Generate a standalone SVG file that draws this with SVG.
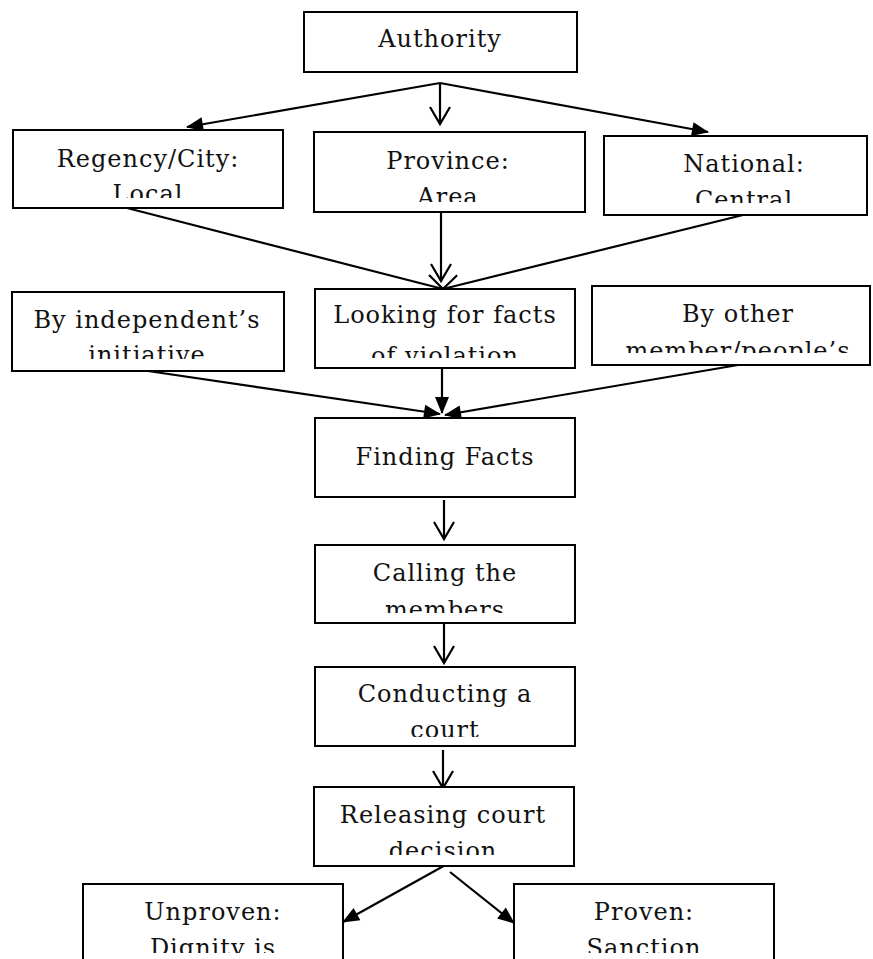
<svg xmlns="http://www.w3.org/2000/svg" width="873" height="959" viewBox="0 0 873 959">
<style>
.box{fill:#fff;stroke:#000;stroke-width:2}
.t{font-family:"DejaVu Serif","Liberation Serif",serif;font-size:24px;letter-spacing:1px;text-anchor:middle;fill:#111}
.c{stroke:#000;stroke-width:2.2;fill:none}
.f{marker-end:url(#fill)}
.o{marker-end:url(#open)}
</style>
<defs>
<marker id="fill" markerUnits="userSpaceOnUse" markerWidth="18" markerHeight="14" refX="16" refY="7" orient="auto" overflow="visible">
<path d="M0,0 L17,7 L0,14 z" fill="#000"/>
</marker>
<marker id="open" markerUnits="userSpaceOnUse" markerWidth="20" markerHeight="22" refX="17" refY="10" orient="auto" overflow="visible">
<path d="M0,0 L17,10 L0,20" fill="none" stroke="#000" stroke-width="2.2"/>
</marker>
<clipPath id="cReg"><rect x="0" y="120" width="300" height="78"/></clipPath>
<clipPath id="cPro"><rect x="300" y="120" width="300" height="82"/></clipPath>
<clipPath id="cNat"><rect x="590" y="120" width="300" height="83"/></clipPath>
<clipPath id="cInd"><rect x="0" y="280" width="300" height="79"/></clipPath>
<clipPath id="cLook"><rect x="300" y="280" width="290" height="78"/></clipPath>
<clipPath id="cOth"><rect x="585" y="280" width="300" height="73"/></clipPath>
<clipPath id="cCall"><rect x="300" y="540" width="300" height="73"/></clipPath>
<clipPath id="cCond"><rect x="300" y="660" width="300" height="77"/></clipPath>
<clipPath id="cRel"><rect x="300" y="780" width="300" height="75"/></clipPath>
<clipPath id="cUn"><rect x="70" y="880" width="290" height="73"/></clipPath>
<clipPath id="cPr"><rect x="500" y="880" width="290" height="73"/></clipPath>
</defs>

<g id="connectors">
<line class="c f" x1="440" y1="83" x2="187" y2="127"/>
<line class="c o" x1="440" y1="83" x2="440" y2="124"/>
<line class="c f" x1="440" y1="83" x2="708" y2="132"/>
<line class="c o" x1="127" y1="208" x2="443" y2="289"/>
<line class="c o" x1="441" y1="212" x2="441" y2="281"/>
<line class="c o" x1="743" y1="215" x2="443" y2="289"/>
<line class="c f" x1="148" y1="371" x2="440" y2="414"/>
<line class="c f" x1="442" y1="367" x2="442" y2="413"/>
<line class="c f" x1="738" y1="365" x2="445" y2="415"/>
<line class="c o" x1="444" y1="500" x2="444" y2="539"/>
<line class="c o" x1="444" y1="623" x2="444" y2="663"/>
<line class="c o" x1="443" y1="750" x2="443" y2="788"/>
<line class="c f" x1="449" y1="863" x2="343" y2="922"/>
<line class="c f" x1="450" y1="872" x2="514" y2="923"/>
</g>

<g id="authority">
<rect class="box" x="304" y="12" width="273" height="60"/>
<text class="t" x="440" y="47">Authority</text>
</g>

<g id="regency">
<rect class="box" x="13" y="130" width="270" height="78"/>
<g clip-path="url(#cReg)">
<text class="t" x="148" y="167">Regency/City:</text>
<text class="t" x="148" y="202">Local</text>
</g>
</g>

<g id="province">
<rect class="box" x="314" y="132" width="271" height="80"/>
<g clip-path="url(#cPro)">
<text class="t" x="448" y="169">Province:</text>
<text class="t" x="448" y="205">Area</text>
</g>
</g>

<g id="national">
<rect class="box" x="604" y="136" width="263" height="79"/>
<g clip-path="url(#cNat)">
<text class="t" x="744" y="172">National:</text>
<text class="t" x="744" y="208">Central</text>
</g>
</g>

<g id="independent">
<rect class="box" x="12" y="292" width="272" height="79"/>
<g clip-path="url(#cInd)">
<text class="t" x="147" y="328">By independent’s</text>
<text class="t" x="147" y="363">initiative</text>
</g>
</g>

<g id="looking">
<rect class="box" x="315" y="289" width="260" height="79"/>
<g clip-path="url(#cLook)">
<text class="t" x="445" y="323">Looking for facts</text>
<text class="t" x="445" y="364">of violation</text>
</g>
</g>

<g id="other">
<rect class="box" x="592" y="286" width="278" height="79"/>
<g clip-path="url(#cOth)">
<text class="t" x="738" y="322">By other</text>
<text class="t" x="738" y="359">member/people’s</text>
</g>
</g>

<g id="finding">
<rect class="box" x="315" y="418" width="260" height="79"/>
<text class="t" x="445" y="465">Finding Facts</text>
</g>

<g id="calling">
<rect class="box" x="315" y="545" width="260" height="78"/>
<g clip-path="url(#cCall)">
<text class="t" x="445" y="581">Calling the</text>
<text class="t" x="445" y="618">members</text>
</g>
</g>

<g id="conducting">
<rect class="box" x="315" y="667" width="260" height="79"/>
<g clip-path="url(#cCond)">
<text class="t" x="445" y="702">Conducting a</text>
<text class="t" x="445" y="738">court</text>
</g>
</g>

<g id="releasing">
<rect class="box" x="314" y="787" width="260" height="79"/>
<g clip-path="url(#cRel)">
<text class="t" x="443" y="823">Releasing court</text>
<text class="t" x="443" y="859">decision</text>
</g>
</g>

<g id="unproven">
<rect class="box" x="83" y="884" width="260" height="90"/>
<g clip-path="url(#cUn)">
<text class="t" x="213" y="920">Unproven:</text>
<text class="t" x="213" y="956">Dignity is</text>
</g>
</g>

<g id="proven">
<rect class="box" x="514" y="884" width="260" height="90"/>
<g clip-path="url(#cPr)">
<text class="t" x="644" y="920">Proven:</text>
<text class="t" x="644" y="956">Sanction</text>
</g>
</g>
</svg>
